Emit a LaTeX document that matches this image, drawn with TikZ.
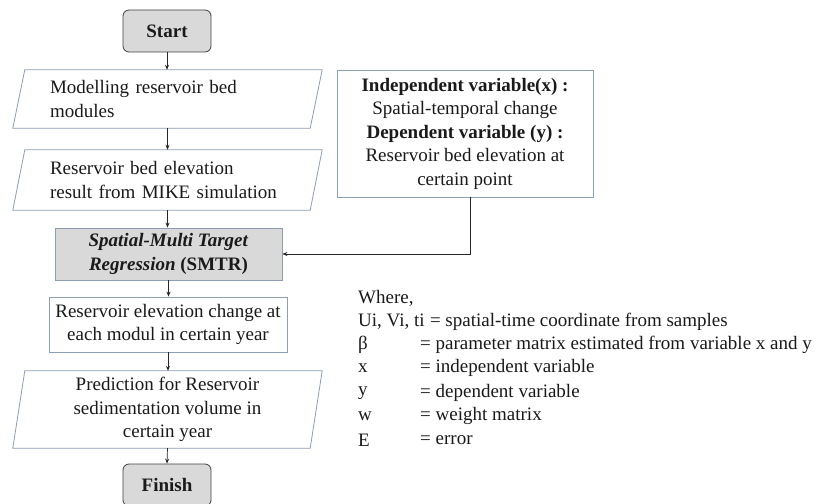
\documentclass[tikz,border=0pt]{standalone}
\usepackage{fontspec}
\setmainfont{Liberation Serif}
\usetikzlibrary{arrows.meta,calc}
\definecolor{bbord}{HTML}{8C9DB5}
\definecolor{gfill}{HTML}{D9D9D9}
\definecolor{txt}{HTML}{1A1A1A}
\begin{document}
\begin{tikzpicture}[x=1pt,y=-1pt,
  every node/.style={font=\fontsize{19}{23.5}\selectfont, text=txt},
  term/.style={draw=black!75, fill=gfill, rounded corners=6pt, line width=0.8pt, minimum width=88, minimum height=42, inner sep=0pt, font=\fontsize{19}{23.5}\selectfont\bfseries},
  pbox/.style={minimum width=297, inner sep=0pt},
  pline/.style={draw=bbord, line width=0.8pt},
  rbox/.style={draw=bbord, line width=0.8pt, inner sep=0pt},
  conn/.style={draw=black!85, line width=0.7pt, -{Stealth[length=5pt,width=4pt]}},
  leg/.style={anchor=west, inner sep=0pt}
]
\clip (0,0) rectangle (837,503);
\fill[white] (0,0) rectangle (837,503);

% terminals
\node[term] (start) at (167,31) {Start};
\node[term] (finish) at (167,485) {Finish};

% parallelogram 1
\node[pbox, minimum height=58, text width=235, align=left] (p1) at (167.5,99) {Modelling reservoir bed\\modules};
\draw[pline] ($(p1.north west)+(6,0)$) -- ($(p1.north east)+(6,0)$) -- ($(p1.south east)+(-6,0)$) -- ($(p1.south west)+(-6,0)$) -- cycle;

% parallelogram 2
\node[pbox, minimum height=60, text width=235, align=left] (p2) at (167.5,180) {Reservoir bed elevation\\result from MIKE simulation};
\draw[pline] ($(p2.north west)+(6,0)$) -- ($(p2.north east)+(6,0)$) -- ($(p2.south east)+(-6,0)$) -- ($(p2.south west)+(-6,0)$) -- cycle;

% SMTR box
\node[rbox, fill=gfill, minimum width=227, minimum height=52, align=center] (smtr) at (168.5,254) {\textbf{\textit{Spatial-Multi Target}}\\\textbf{\textit{Regression} (SMTR)}};

% box 3
\node[rbox, minimum width=238, minimum height=55, align=center] (b3) at (168,324.5) {Reservoir elevation change at\\each modul in certain year};

% parallelogram 3
\node[pbox, minimum height=77, align=center] (p3) at (167.5,409.5) {Prediction for Reservoir\\sedimentation volume in\\certain year};
\draw[pline] ($(p3.north west)+(6,0)$) -- ($(p3.north east)+(6,0)$) -- ($(p3.south east)+(-6,0)$) -- ($(p3.south west)+(-6,0)$) -- cycle;

% right box
\node[rbox, minimum width=256, minimum height=127, align=center] (rb) at (465,133.5) {\textbf{Independent variable(x) :}\\Spatial-temporal change\\\textbf{Dependent variable (y) :}\\Reservoir bed elevation at\\certain point};

% connectors
\draw[conn] (start.south) -- (start.south |- p1.north);
\draw[conn] (p1.south) -- (p1.south |- p2.north);
\draw[conn] (p2.south) -- (p2.south |- smtr.north);
\draw[conn] (smtr.south) -- (smtr.south |- b3.north);
\draw[conn] (b3.south) -- (b3.south |- p3.north);
\draw[conn] (p3.south) -- (finish.north);
\coordinate (rbout) at ($(rb.south)+(5,0)$);
\draw[conn] (rbout) |- (smtr.east);

% legend
\node[leg] (lw) at (358,298) {Where,};
\node[leg] (l1) at (358,322) {Ui, Vi, ti};
\node[leg] (l2) at (358,345) {β};
\node[leg] (l3) at (358,368) {x};
\node[leg] (l4) at (358,393) {y};
\node[leg] (l5) at (358,416) {w};
\node[leg] (l6) at (358,440) {E};
\node[leg] (r1) at ($(l1.east)+(5,0)$) {= spatial-time coordinate from samples};
\node[leg] (r2) at (420,345) {= parameter matrix estimated from variable x and y};
\node[leg] (r3) at (420,368) {= independent variable};
\node[leg] (r4) at (420,393) {= dependent variable};
\node[leg] (r5) at (420,416) {= weight matrix};
\node[leg] (r6) at (420,440) {= error};
\end{tikzpicture}
\end{document}
